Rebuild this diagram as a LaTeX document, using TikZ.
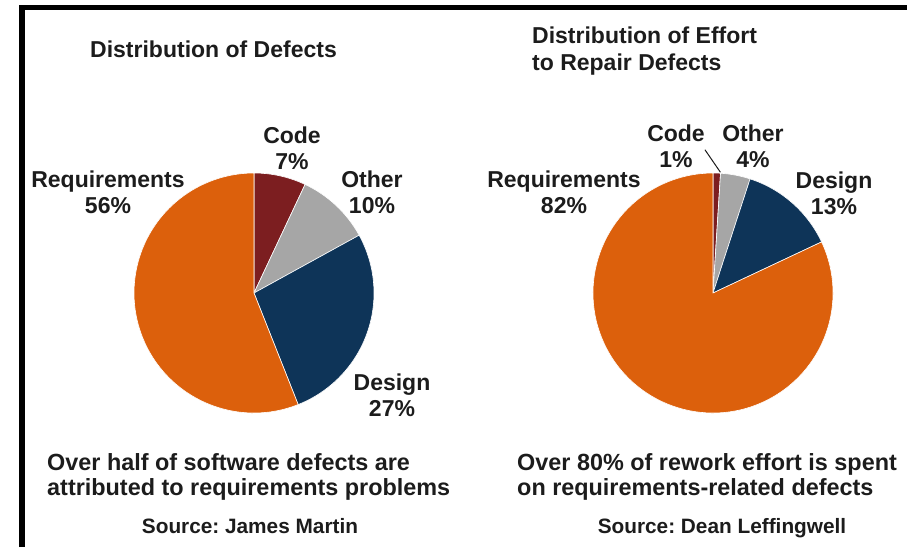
\documentclass[tikz,border=0pt]{standalone}
\usepackage{fontspec}
\usepackage{tikz}
\setmainfont{Liberation Sans}
\usetikzlibrary{positioning}
\tikzset{slice/.style = {draw = white, line width = 0.6},
  lbl/.style = {font = \fontsize{23}{26}\selectfont\bfseries, align = center, anchor = base, inner sep = 0},
  note/.style = {font = \fontsize{23.4}{25}\selectfont\bfseries, align = left, anchor = base west, inner sep = 0},
  src/.style = {font = \fontsize{20.8}{24}\selectfont\bfseries, anchor = base, inner sep = 0},
  frame/.style = {line width = 5.5, line join = miter}}
\definecolor{reqorange}{RGB}{220, 96, 12}
\definecolor{dsgnavy}{RGB}{14, 52, 88}
\definecolor{codered}{RGB}{124, 30, 32}
\definecolor{othergrey}{RGB}{166, 166, 166}
\definecolor{ink}{RGB}{28, 28, 28}
\frenchspacing

\begin{document}
\begin{tikzpicture}[x=1pt, y=-1pt, text=ink]
      \useasboundingbox (0, 0) rectangle (907, 547);
      \draw [frame] (22, 547) -- (22, 7.5) -- (907, 7.5);
      \begin{scope}[shift={(254, 293)}, yscale=-1]
        \foreach \a/\b/\c in {90/64.8/codered, 64.8/28.8/othergrey, 28.8/-68.4/dsgnavy, -68.4/-270/reqorange} {
          \filldraw [slice, fill=\c] (0, 0) -- (\a:120) arc [start angle=\a, end angle=\b, radius=120] -- cycle;
        }
      \end{scope}
      \begin{scope}[shift={(713, 293)}, yscale=-1]
        \foreach \a/\b/\c in {90/86.4/codered, 86.4/72/othergrey, 72/25.2/dsgnavy, 25.2/-270/reqorange} {
          \filldraw [slice, fill=\c] (0, 0) -- (\a:120) arc [start angle=\a, end angle=\b, radius=120] -- cycle;
        }
        \coordinate (codetip) at (86.5:121);
      \end{scope}

      \node [lbl, anchor=base west] (ltitle) at (90, 57) {Distribution of Defects};
      \node [lbl, anchor=base west, align=left, font=\fontsize{23}{27}\selectfont\bfseries] (rtitle) at (532, 70) {Distribution of Effort\\to Repair Defects};

      \node [lbl] (lcode) at (292, 169) {Code\\7\%};
      \node [lbl] (lother) at (372, 213) {Other\\10\%};
      \node [lbl] (lreq) at (108, 213) {Requirements\\56\%};
      \node [lbl] (ldesign) at (392, 416) {Design\\27\%};

      \node [lbl] (rcode) at (676, 167) {Code\\1\%};
      \node [lbl] (rother) at (753, 167) {Other\\4\%};
      \node [lbl] (rreq) at (564, 213) {Requirements\\82\%};
      \node [lbl] (rdesign) at (834, 214) {Design\\13\%};
      \draw [ink, line width=1] ([yshift=-4]rcode.east) -- (codetip);

      \node [note] (lnote) at (47, 495) {Over half of software defects are\\attributed to requirements problems};
      \node [note] (rnote) at (517, 495) {Over 80\% of rework effort is spent\\on requirements-related defects};
      \node [src] (lsrc) at (250, 533) {Source: James Martin};
      \node [src] (rsrc) at (722, 533) {Source: Dean Leffingwell};
    \end{tikzpicture}
\end{document}
